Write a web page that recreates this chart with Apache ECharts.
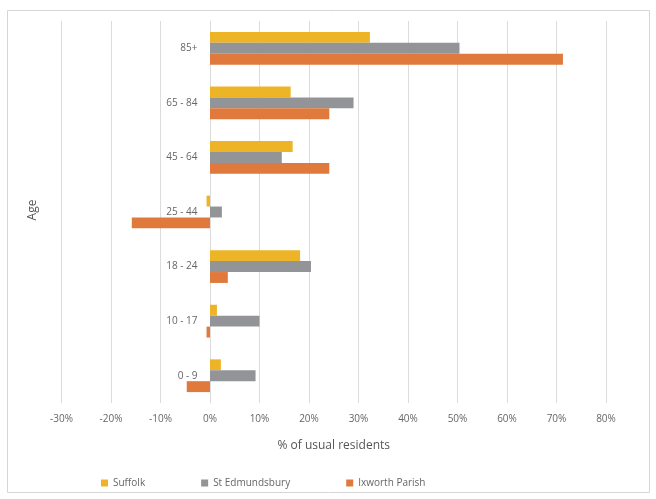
<!DOCTYPE html>
<html><head><meta charset="utf-8">
<script src="https://cdn.jsdelivr.net/npm/echarts@6/dist/echarts.min.js"></script>
<style>html,body{margin:0;padding:0;background:#fff}#c{width:656px;height:499px}</style>
</head><body><div id="c"></div>
<script>
const categories = ["85+", "65 - 84", "45 - 64", "25 - 44", "18 - 24", "10 - 17", "0 - 9"];
const suffolk = [32.3, 16.3, 16.7, -0.7, 18.2, 1.4, 2.2];
const stEdmundsbury = [50.4, 29.0, 14.5, 2.4, 20.4, 10.0, 9.2];
const ixworth = [71.3, 24.1, 24.1, -15.8, 3.6, -0.7, -4.7];
const seriesNames = ["Suffolk", "St Edmundsbury", "Ixworth Parish"];
const colors = ["#EEB427", "#929497", "#E07A3C"];

const chart = echarts.init(document.getElementById('c'));
const font = "'Open Sans', 'Noto Sans', sans-serif";
chart.setOption({
  animation: false,
  color: colors,
  textStyle: { fontFamily: font },
  grid: { left: 61.5, right: 50, top: 21, bottom: 96, containLabel: false },
  xAxis: {
    type: 'value', min: -30, max: 80, interval: 10,
    axisLine: { show: false }, axisTick: { show: false },
    splitLine: { lineStyle: { color: '#dcdcdc', width: 1 } },
    axisLabel: { formatter: '{value}%', color: '#666', fontSize: 10, margin: 11 },
    name: '% of usual residents', nameLocation: 'middle', nameGap: 37,
    nameTextStyle: { color: '#555', fontSize: 12 }
  },
  yAxis: {
    type: 'category', data: categories, inverse: true,
    axisLine: { show: true, onZero: true, lineStyle: { color: '#dcdcdc' } },
    axisTick: { show: false },
    axisLabel: { color: '#666', fontSize: 10, margin: -136 }
  },
  legend: {
    data: seriesNames, bottom: 6, left: 96, itemWidth: 7, itemHeight: 7, itemGap: 56,
    icon: 'rect', textStyle: { color: '#666', fontSize: 10 }
  },
  graphic: [
    { type: 'rect', shape: { x: 7.5, y: 10.5, width: 642, height: 482 }, style: { fill: 'none', stroke: '#d6d6d6', lineWidth: 1 }, silent: true },
    { type: 'text', x: 33, y: 210, rotation: Math.PI / 2, style: { text: 'Age', fill: '#555', font: '12px ' + font, textAlign: 'center', textVerticalAlign: 'middle' } }
  ],
  series: [
    { name: seriesNames[0], type: 'bar', data: suffolk, barCategoryGap: '40%', barGap: '0%' },
    { name: seriesNames[1], type: 'bar', data: stEdmundsbury, barCategoryGap: '40%', barGap: '0%' },
    { name: seriesNames[2], type: 'bar', data: ixworth, barCategoryGap: '40%', barGap: '0%' }
  ]
});
</script></body></html>
